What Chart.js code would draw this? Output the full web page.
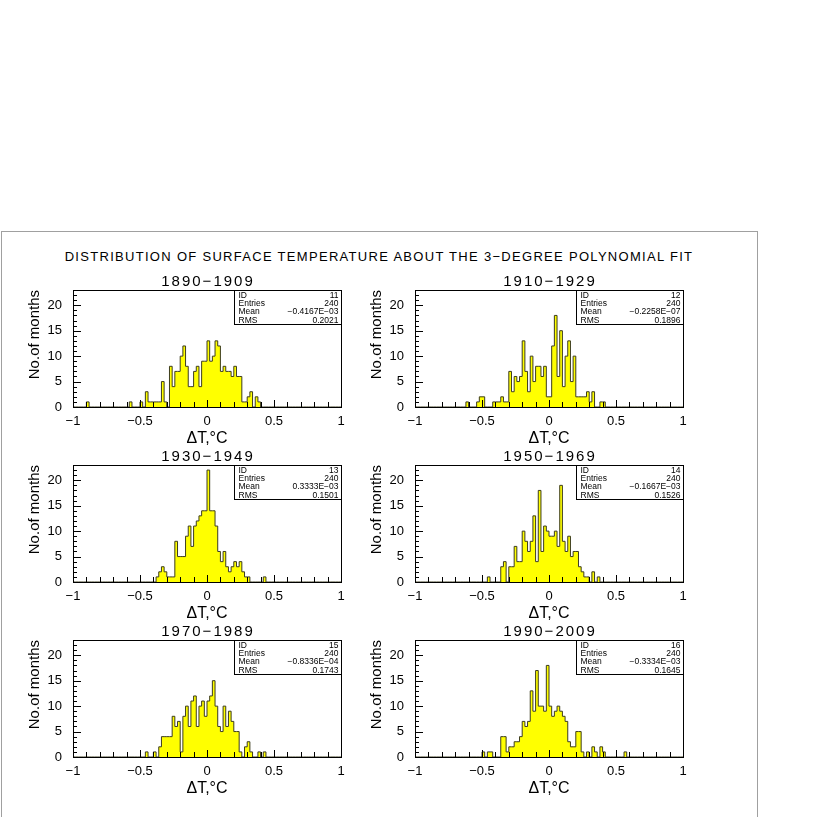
<!DOCTYPE html>
<html>
<head>
<meta charset="utf-8">
<script src="https://cdn.jsdelivr.net/npm/chart.js@4.4.1/dist/chart.umd.min.js"></script>
<style>
    body {
        margin: 0;
        width: 817px;
        height: 817px;
        overflow: hidden;
        position: relative;
        background: #fff;
        font-family: "Liberation Sans", Arial, sans-serif;
    }
    #marco {
        position: absolute;
        left: 1px;
        top: 231px;
        width: 755px;
        height: 640px;
        border: 1px solid #a0a0a0;
    }
    #titulo {
        position: absolute;
        left: 0;
        top: 249px;
        width: 758px;
        text-align: center;
        font-size: 13px;
        letter-spacing: 1.3px;
        color: #000;
    }
    canvas {
        position: absolute;
    }
</style>
</head>
<body>
<div id="marco"></div>
<div id="titulo">DISTRIBUTION OF SURFACE TEMPERATURE ABOUT THE 3−DEGREE POLYNOMIAL FIT</div>

<script>
// ==========================================
// HISTOGRAMAS: residuos de temperatura
// 100 bins de 0.02 entre -1 y 1
// ==========================================

const X_MIN = -1;
const X_MAX = 1;
const ANCHO_BIN = 0.02;
const Y_MAX = 23;

const periodos = ["1890−1909", "1910−1929", "1930−1949", "1950−1969", "1970−1989", "1990−2009"];
const ids = [11, 12, 13, 14, 15, 16];
const entradas = [240, 240, 240, 240, 240, 240];
const medias = ["−0.4167E−03", "−0.2258E−07", "0.3333E−03", "−0.1667E−03", "−0.8336E−04", "−0.3334E−03"];
const rms = ["0.2021", "0.1896", "0.1501", "0.1526", "0.1743", "0.1645"];

const h1890 = [
    0, 0, 0, 0, 0, 0, 1, 0, 0, 0,
    0, 0, 0, 0, 0, 0, 0, 0, 0, 0,
    0, 0, 1, 0, 0, 0, 1, 0, 3, 1,
    1, 1, 1, 1, 5, 1, 0, 8, 4, 7,
    7, 10, 12, 8, 4, 4, 7, 8, 4, 9,
    9, 13, 9, 10, 13, 12, 7, 8, 7, 7,
    6, 8, 6, 6, 1, 1, 2, 3, 0, 2,
    1, 0, 0, 0, 0, 0, 0, 0, 0, 0,
    0, 0, 0, 0, 0, 0, 0, 0, 0, 0,
    0, 0, 0, 0, 0, 0, 0, 0, 0, 0
];

const h1910 = [
    0, 0, 0, 0, 0, 0, 0, 0, 0, 0,
    0, 0, 0, 0, 0, 0, 0, 0, 0, 0,
    1, 0, 0, 0, 1, 2, 2, 0, 0, 0,
    1, 1, 1, 2, 1, 1, 7, 3, 6, 5,
    6, 13, 7, 3, 10, 5, 8, 8, 6, 8,
    2, 2, 12, 18, 6, 15, 4, 10, 13, 5,
    10, 2, 2, 2, 2, 3, 1, 3, 0, 0,
    1, 1, 0, 0, 0, 0, 0, 0, 0, 0,
    0, 0, 0, 0, 0, 0, 0, 0, 0, 0,
    0, 0, 0, 0, 0, 0, 0, 0, 0, 0
];

const h1930 = [
    0, 0, 0, 0, 0, 0, 0, 0, 0, 0,
    0, 0, 0, 0, 0, 0, 0, 0, 0, 0,
    0, 0, 0, 0, 0, 0, 0, 0, 0, 0,
    0, 0, 1, 2, 3, 2, 1, 1, 1, 8,
    5, 5, 5, 9, 11, 7, 11, 12, 13, 14,
    14, 22, 14, 14, 11, 6, 4, 6, 3, 2,
    3, 4, 3, 4, 2, 1, 1, 0, 0, 0,
    0, 0, 1, 0, 0, 0, 0, 0, 0, 0,
    0, 0, 0, 0, 0, 0, 0, 0, 0, 0,
    0, 0, 0, 0, 0, 0, 0, 0, 0, 0
];

const h1950 = [
    0, 0, 0, 0, 0, 0, 0, 0, 0, 0,
    0, 0, 0, 0, 0, 0, 0, 0, 0, 0,
    0, 0, 0, 0, 0, 0, 0, 0, 1, 0,
    0, 0, 0, 3, 4, 0, 3, 3, 7, 4,
    4, 10, 8, 6, 8, 13, 4, 18, 6, 11,
    10, 9, 9, 10, 7, 19, 8, 6, 9, 5,
    6, 6, 3, 2, 1, 1, 0, 2, 0, 1,
    0, 0, 0, 0, 0, 0, 0, 0, 0, 0,
    0, 0, 0, 0, 0, 0, 0, 0, 0, 0,
    0, 0, 0, 0, 0, 0, 0, 0, 0, 0
];

const h1970 = [
    0, 0, 0, 0, 0, 0, 0, 0, 0, 0,
    0, 0, 0, 0, 0, 0, 0, 0, 0, 0,
    0, 0, 0, 0, 0, 0, 0, 0, 1, 0,
    0, 1, 0, 2, 4, 4, 4, 4, 8, 6,
    7, 1, 8, 10, 6, 11, 12, 6, 10, 11,
    8, 11, 12, 15, 10, 6, 5, 10, 6, 9,
    7, 5, 5, 1, 0, 2, 3, 1, 0, 0,
    1, 0, 1, 0, 0, 0, 0, 0, 0, 0,
    0, 0, 0, 0, 0, 0, 0, 0, 0, 0,
    0, 0, 0, 0, 0, 0, 0, 0, 0, 0
];

const h1990 = [
    0, 0, 0, 0, 0, 0, 0, 0, 0, 0,
    0, 0, 0, 0, 0, 0, 0, 0, 0, 0,
    0, 0, 0, 0, 0, 0, 1, 0, 1, 1,
    0, 0, 0, 4, 4, 1, 2, 2, 3, 3,
    4, 7, 6, 7, 13, 9, 17, 10, 10, 9,
    18, 10, 8, 9, 10, 9, 8, 7, 3, 2,
    2, 5, 5, 1, 0, 1, 0, 2, 1, 0,
    2, 1, 0, 0, 0, 0, 0, 0, 0, 1,
    0, 0, 0, 0, 0, 0, 0, 0, 0, 0,
    0, 0, 0, 0, 0, 0, 0, 0, 0, 0
];

const histogramas = [h1890, h1910, h1930, h1950, h1970, h1990];

const ticksX = [-1, -0.5, 0, 0.5, 1];
const ticksY = [0, 5, 10, 15, 20];

// posicion del area de cada panel (px)
const COLUMNAS = [73, 415];
const FILAS = [290, 465, 640];
const ANCHO_AREA = 268;
const ALTO_AREA = 117;
const EJE_Y = 60;
const EJE_X = 42;
const ARRIBA = 30;
const DERECHA = 6;

Chart.defaults.font.family = '"Liberation Sans", Arial, sans-serif';
Chart.defaults.color = "#000";

function textoNumero(v) {
    const s = String(v);
    return s.startsWith("-") ? "−" + s.slice(1) : s;
}

function puntosHistograma(conteos) {
    const puntos = conteos.map((c, i) => ({ x: X_MIN + i * ANCHO_BIN, y: c }));
    puntos.push({ x: X_MAX, y: conteos[conteos.length - 1] });
    return puntos;
}

const marco = {
    id: "marco",
    afterDatasetsDraw(chart, args, opts) {
        const { ctx, chartArea: a, scales: { x, y } } = chart;
        ctx.save();
        ctx.strokeStyle = "#000";
        ctx.lineWidth = 1;
        ctx.beginPath();

        // marcas en x cada 0.1
        for (let k = -10; k <= 10; k++) {
            const v = k / 10;
            const px = Math.round(x.getPixelForValue(v)) + 0.5;
            const largo = k % 5 === 0 ? 7 : 5;
            ctx.moveTo(px, a.bottom);
            ctx.lineTo(px, a.bottom - largo);
        }
        // marcas en y cada unidad
        for (let v = 0; v <= Y_MAX; v++) {
            const py = Math.round(y.getPixelForValue(v)) + 0.5;
            const largo = v % 5 === 0 ? 8 : 4;
            ctx.moveTo(a.left, py);
            ctx.lineTo(a.left + largo, py);
        }
        ctx.stroke();

        ctx.strokeRect(Math.round(a.left) + 0.5, Math.round(a.top) + 0.5,
            Math.round(a.right - a.left), Math.round(a.bottom - a.top));

        // titulo del periodo
        ctx.fillStyle = "#000";
        ctx.font = '15px "Liberation Sans", Arial, sans-serif';
        ctx.letterSpacing = "2px";
        ctx.textAlign = "center";
        ctx.textBaseline = "middle";
        ctx.fillText(opts.periodo, (a.left + a.right) / 2 + 1, a.top - 8);
        ctx.letterSpacing = "0px";

        // caja de estadisticas
        const bw = 107, bh = 34;
        const bx = Math.round(a.right) - bw + 0.5;
        const by = Math.round(a.top) + 0.5;
        ctx.fillStyle = "#fff";
        ctx.fillRect(bx, by, bw, bh);
        ctx.strokeRect(bx, by, bw, bh);

        const filas = [
            ["ID", String(opts.id)],
            ["Entries", String(opts.entradas)],
            ["Mean", opts.media],
            ["RMS", opts.rms]
        ];
        ctx.fillStyle = "#000";
        ctx.font = '8.5px "Liberation Sans", Arial, sans-serif';
        filas.forEach(([nombre, valor], i) => {
            const ty = by + 4.8 + i * 8.4;
            ctx.textAlign = "left";
            ctx.fillText(nombre, bx + 4, ty);
            ctx.textAlign = "right";
            ctx.fillText(valor, bx + bw - 3, ty);
        });
        ctx.restore();
    }
};

function crearPanel(i) {
    const col = i % 2;
    const fila = Math.floor(i / 2);
    const canvas = document.createElement("canvas");
    const ancho = EJE_Y + ANCHO_AREA + DERECHA;
    const alto = ARRIBA + ALTO_AREA + EJE_X;
    canvas.width = ancho;
    canvas.height = alto;
    canvas.style.left = (COLUMNAS[col] - EJE_Y) + "px";
    canvas.style.top = (FILAS[fila] - ARRIBA) + "px";
    canvas.style.width = ancho + "px";
    canvas.style.height = alto + "px";
    document.body.appendChild(canvas);

    return new Chart(canvas, {
        type: "line",
        data: {
            datasets: [{
                data: puntosHistograma(histogramas[i]),
                stepped: "after",
                fill: "origin",
                backgroundColor: "#ffff00",
                borderColor: "#3c3c1e",
                borderWidth: 1,
                pointRadius: 0
            }]
        },
        plugins: [marco],
        options: {
            responsive: false,
            animation: false,
            layout: { padding: { top: ARRIBA, right: DERECHA, left: 0, bottom: 0 } },
            plugins: {
                legend: { display: false },
                tooltip: { enabled: false },
                marco: {
                    periodo: periodos[i],
                    id: ids[i],
                    entradas: entradas[i],
                    media: medias[i],
                    rms: rms[i]
                }
            },
            scales: {
                x: {
                    type: "linear",
                    min: X_MIN,
                    max: X_MAX,
                    afterFit: s => {
                        s.height = EJE_X;
                        s.paddingLeft = 0;
                        s.paddingRight = 0;
                    },
                    afterBuildTicks: s => { s.ticks = ticksX.map(v => ({ value: v })); },
                    grid: { display: false, drawTicks: false },
                    border: { display: false },
                    ticks: {
                        padding: 7,
                        maxRotation: 0,
                        autoSkip: false,
                        font: { size: 13 },
                        callback: v => textoNumero(v)
                    },
                    title: {
                        display: true,
                        text: "ΔT,°C",
                        font: { size: 16 },
                        padding: { top: 0, bottom: 1 }
                    }
                },
                y: {
                    type: "linear",
                    min: 0,
                    max: Y_MAX,
                    afterFit: s => {
                        s.width = EJE_Y;
                        s.paddingTop = 0;
                        s.paddingBottom = 0;
                    },
                    afterBuildTicks: s => { s.ticks = ticksY.map(v => ({ value: v })); },
                    grid: { display: false, drawTicks: false },
                    border: { display: false },
                    ticks: {
                        padding: 11,
                        font: { size: 13 }
                    },
                    title: {
                        display: true,
                        text: "No.of months",
                        align: "end",
                        font: { size: 15 },
                        padding: { top: 13, bottom: 0 }
                    }
                }
            }
        }
    });
}

const graficos = [0, 1, 2, 3, 4, 5].map(crearPanel);
</script>
</body>
</html>
